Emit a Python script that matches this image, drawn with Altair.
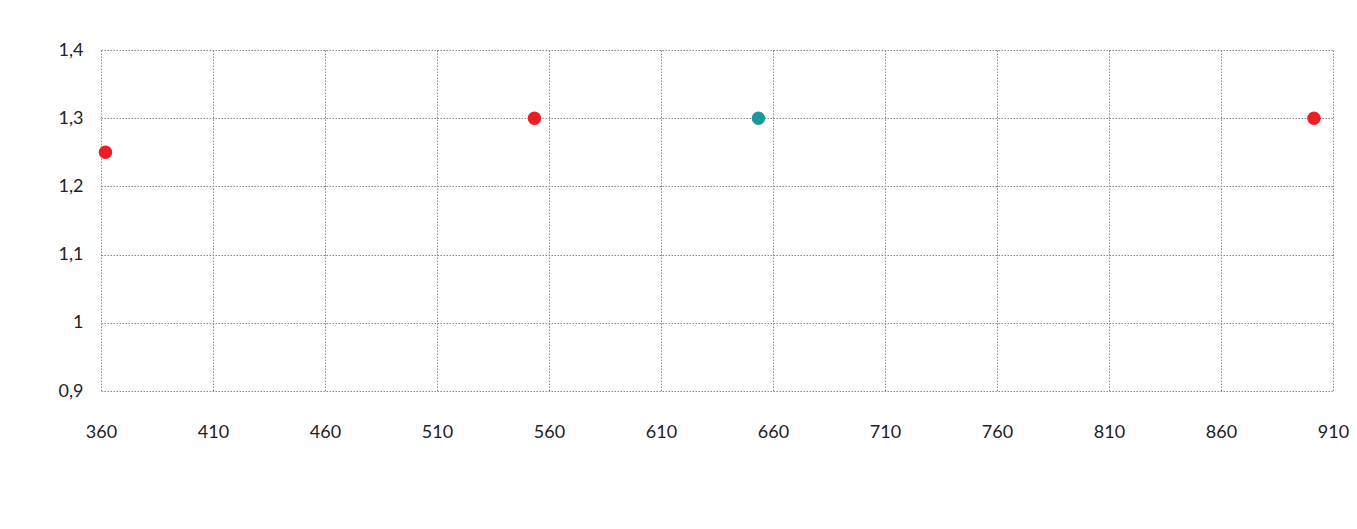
import altair as alt
import pandas as pd

x_vals = [362, 553.5, 653.5, 901.5]
y_vals = [1.25, 1.3, 1.3, 1.3]
groups = ["a", "a", "b", "a"]
x_ticks = [360, 410, 460, 510, 560, 610, 660, 710, 760, 810, 860, 910]
y_ticks = [0.9, 1.0, 1.1, 1.2, 1.3, 1.4]

df = pd.DataFrame({"x": x_vals, "y": y_vals, "g": groups})

chart = alt.Chart(df).mark_circle(size=180, opacity=1).encode(
    x=alt.X("x:Q", scale=alt.Scale(domain=[360, 910], nice=False, zero=False),
            axis=alt.Axis(values=x_ticks, title=None, labelPadding=32, labelFontSize=18,
                          labelAlign="center")),
    y=alt.Y("y:Q", scale=alt.Scale(domain=[0.9, 1.4], nice=False, zero=False),
            axis=alt.Axis(values=y_ticks, title=None, labelPadding=18, labelFontSize=18,
                          labelExpr="replace(format(datum.value, '.2~f'), '.', ',')")),
    color=alt.Color("g:N", scale=alt.Scale(domain=["a", "b"], range=["#ee1c25", "#1a989f"]),
                    legend=None),
).properties(
    width=1232, height=341,
    autosize=alt.AutoSizeParams(type="none"),
    padding={"left": 93, "top": 42, "right": 16, "bottom": 130},
    background="white",
).configure_axis(
    grid=True, gridColor="#888888", gridDash=[1.5, 1.5], gridWidth=1,
    domain=False, ticks=False,
    labelFont="Lato", labelColor="#222222",
).configure_view(stroke=None)

chart.save("out.html", embed_options={"renderer": "svg", "actions": False})
